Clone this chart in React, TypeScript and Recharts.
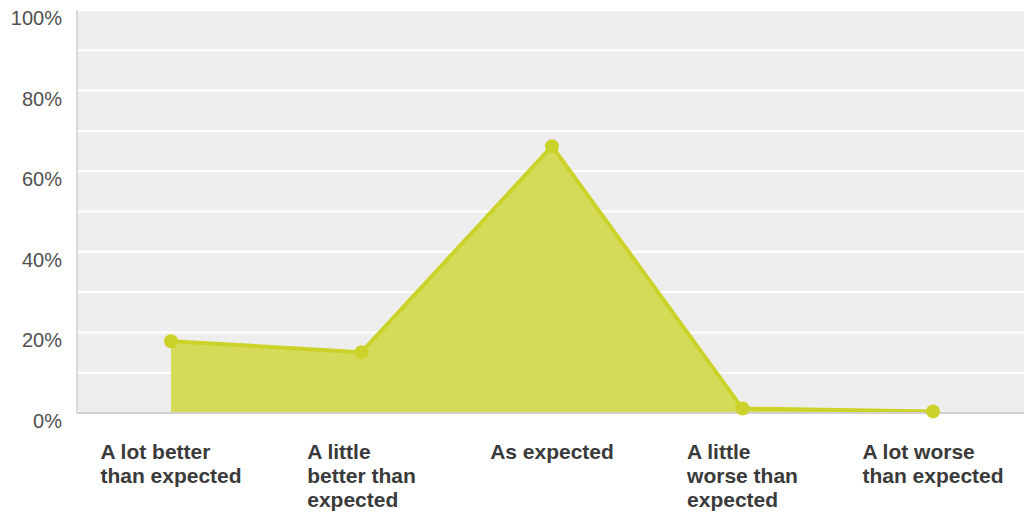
import React from "react";
import { AreaChart, Area, XAxis, YAxis, CartesianGrid } from "recharts";

// Survey answers (categories) and the share of responses for each (%)
const categories = [
  "A lot better than expected",
  "A little better than expected",
  "As expected",
  "A little worse than expected",
  "A lot worse than expected",
];
const shares = [17.8, 15.1, 66.2, 1.1, 0.4];

// How each category label wraps under the axis
const labelLines = [
  ["A lot better", "than expected"],
  ["A little", "better than", "expected"],
  ["As expected"],
  ["A little", "worse than", "expected"],
  ["A lot worse", "than expected"],
];

const yTicks = [0, 10, 20, 30, 40, 50, 60, 70, 80, 90, 100];

const data = categories.map((name, i) => ({ name, share: shares[i], idx: i }));

const FONT = "'Liberation Sans', Arial, sans-serif";
const LINE_COLOR = "#cbd32a";
const FILL_COLOR = "#d5db58";
const X_FONT_SIZE = 21;

let measureCtx: CanvasRenderingContext2D | null = null;
function textWidth(s: string, font: string): number {
  if (!measureCtx) {
    const c = document.createElement("canvas");
    measureCtx = c.getContext("2d");
  }
  if (!measureCtx) return s.length * 10;
  measureCtx.font = font;
  return measureCtx.measureText(s).width;
}

// Multi-line label: lines are left aligned, the block is centred on the category
const XTick = (props: any) => {
  const { x, y, payload } = props;
  const i = categories.indexOf(payload.value);
  const lines = labelLines[i] || [payload.value];
  const font = `bold ${X_FONT_SIZE}px ${FONT}`;
  const w = Math.max(...lines.map((l) => textWidth(l, font)));
  const left = x - w / 2;
  return (
    <text
      x={left}
      y={y + 46}
      textAnchor="start"
      fontFamily={FONT}
      fontWeight="bold"
      fontSize={X_FONT_SIZE}
      fill="#3a3a3a"
    >
      {lines.map((l, k) => (
        <tspan key={k} x={left} dy={k === 0 ? 0 : 24}>
          {l}
        </tspan>
      ))}
    </text>
  );
};

const YTick = (props: any) => {
  const { x, y, payload } = props;
  if (payload.value % 20 !== 0) return null;
  return (
    <text
      x={x}
      y={y + 15}
      textAnchor="end"
      fontFamily={FONT}
      fontSize={20}
      fill="#505050"
    >
      {`${payload.value}%`}
    </text>
  );
};

export default function App() {
  return (
    <div style={{ position: "absolute", left: 0, top: 0, background: "#fff" }}>
      <AreaChart
        width={1024}
        height={514}
        data={data}
        margin={{ top: 10, right: 0, bottom: 0, left: 0 }}
      >
        <CartesianGrid
          vertical={false}
          stroke="#ffffff"
          strokeWidth={2}
          fill="#eeeeee"
        />
        <XAxis
          dataKey="name"
          height={101}
          padding={{ left: 94, right: 91 }}
          axisLine={{ stroke: "#d0d0d0", strokeWidth: 2 }}
          tickLine={false}
          tickSize={0}
          tickMargin={0}
          interval={0}
          tick={<XTick />}
        />
        <YAxis
          width={77}
          domain={[0, 100]}
          ticks={yTicks}
          interval={0}
          axisLine={{ stroke: "#dadada", strokeWidth: 2 }}
          tickLine={false}
          tickSize={0}
          tickMargin={15}
          tick={<YTick />}
        />
        <Area
          type="linear"
          dataKey="share"
          stroke={LINE_COLOR}
          strokeWidth={4}
          fill={FILL_COLOR}
          fillOpacity={1}
          dot={{ r: 7, fill: LINE_COLOR, stroke: LINE_COLOR, strokeWidth: 0 }}
          activeDot={false}
          isAnimationActive={false}
        />
      </AreaChart>
    </div>
  );
}
